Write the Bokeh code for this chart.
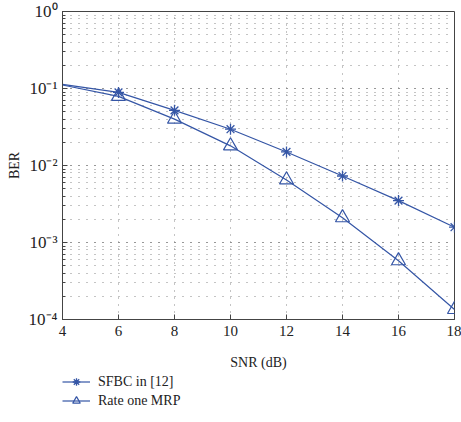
from bokeh.plotting import figure
from bokeh.layouts import column
from bokeh.models import (Legend, LegendItem, LogTicker, FixedTicker,
                          CustomJSTickFormatter, Range1d)
from bokeh.embed import file_html
from bokeh.resources import INLINE

snr = [4, 6, 8, 10, 12, 14, 16, 18]
ber_sfbc = [0.113, 0.089, 0.052, 0.0296, 0.015, 0.0073, 0.0035, 0.00158]
ber_mrp = [0.111, 0.079, 0.040, 0.018, 0.0065, 0.0021, 0.00058, 0.000135]
x_ticks = [4, 6, 8, 10, 12, 14, 16, 18]
legend_labels = ["SFBC in [12]", "Rate one MRP"]

FONT = "Liberation Serif"
BLUE = "#3556a6"

p = figure(width=461, height=372, y_axis_type="log",
           x_range=Range1d(4, 18), y_range=Range1d(1e-4, 1),
           output_backend="svg", toolbar_location=None,
           min_border_left=62, min_border_right=7, min_border_top=11,
           min_border_bottom=52)
p.background_fill_color = "white"
p.border_fill_color = "white"
p.outline_line_color = "#444444"
p.outline_line_width = 1

p.line(snr, ber_sfbc, line_color=BLUE, line_width=1.2)
p.scatter(snr[1:], ber_sfbc[1:], marker="asterisk", size=11,
          line_color=BLUE, line_width=1.3)
p.line(snr, ber_mrp, line_color=BLUE, line_width=1.2)
p.scatter(snr[1:], ber_mrp[1:], marker="triangle", size=14,
          line_color=BLUE, fill_color=None, line_width=1.2)

p.xaxis.ticker = FixedTicker(ticks=x_ticks)
p.yaxis.ticker = LogTicker(num_minor_ticks=10)
p.yaxis.formatter = CustomJSTickFormatter(code="""
const e = Math.round(Math.log10(tick));
const sup = {'0':'\u2070','1':'\u00b9','2':'\u00b2','3':'\u00b3','4':'\u2074',
             '5':'\u2075','6':'\u2076','7':'\u2077','8':'\u2078','9':'\u2079','-':'\u207b'};
return '10' + String(e).split('').map(c => sup[c]).join('');
""")

for ax in [p.xaxis, p.yaxis]:
    ax.major_tick_in = 5
    ax.major_tick_out = 0
    ax.minor_tick_in = 3
    ax.minor_tick_out = 0
    ax.major_label_text_font = FONT
    ax.major_label_text_font_size = "15px"
    ax.major_label_text_color = "#222222"
    ax.axis_label_text_font = FONT
    ax.axis_label_text_font_size = "14px"
    ax.axis_label_text_font_style = "normal"
    ax.axis_label_text_color = "#222222"
    ax.axis_line_color = "#444444"
    ax.major_tick_line_color = "#444444"
    ax.minor_tick_line_color = "#444444"

p.yaxis.major_label_text_font_size = "17px"
p.xaxis.minor_tick_line_color = None
p.xaxis.axis_label = "SNR (dB)"
p.xaxis.axis_label_standoff = 16
p.xaxis.major_label_standoff = 6
p.yaxis.axis_label = "BER"
p.yaxis.axis_label_standoff = 4

p.xgrid.grid_line_color = "#888888"
p.xgrid.grid_line_dash = "1 6"
p.ygrid.grid_line_color = "#888888"
p.ygrid.grid_line_dash = "1 7"
p.ygrid.minor_grid_line_color = "#888888"
p.ygrid.minor_grid_line_dash = "1 7"

# legend panel below the chart (proxy renderers lie outside its ranges)
q = figure(width=461, height=50, output_backend="svg", toolbar_location=None,
           x_range=Range1d(0, 1), y_range=Range1d(0, 1),
           x_axis_location=None, y_axis_location=None,
           min_border=0, outline_line_color=None)
q.grid.visible = False
proxy_x, proxy_y = [5, 6], [5, 6]
l1 = q.line(proxy_x, proxy_y, line_color=BLUE, line_width=1.2)
s1 = q.scatter(proxy_x, proxy_y, marker="asterisk", size=11, line_color=BLUE, line_width=1.3)
l2 = q.line(proxy_x, proxy_y, line_color=BLUE, line_width=1.2)
s2 = q.scatter(proxy_x, proxy_y, marker="triangle", size=14, line_color=BLUE,
               fill_color=None, line_width=1.2)

legend = Legend(items=[LegendItem(label=legend_labels[0], renderers=[l1, s1]),
                       LegendItem(label=legend_labels[1], renderers=[l2, s2])],
                location=(0, 12), orientation="vertical")
legend.background_fill_alpha = 0
legend.border_line_color = None
legend.label_text_font = FONT
legend.label_text_font_size = "14px"
legend.label_text_color = "#222222"
legend.glyph_width = 28
legend.spacing = 0
legend.padding = 0
legend.margin = 0
legend.label_height = 19
legend.glyph_height = 19
legend.label_standoff = 8
q.add_layout(legend, "center")

layout = column(p, q, spacing=0)
open("out.html", "w").write(file_html(layout, INLINE))
